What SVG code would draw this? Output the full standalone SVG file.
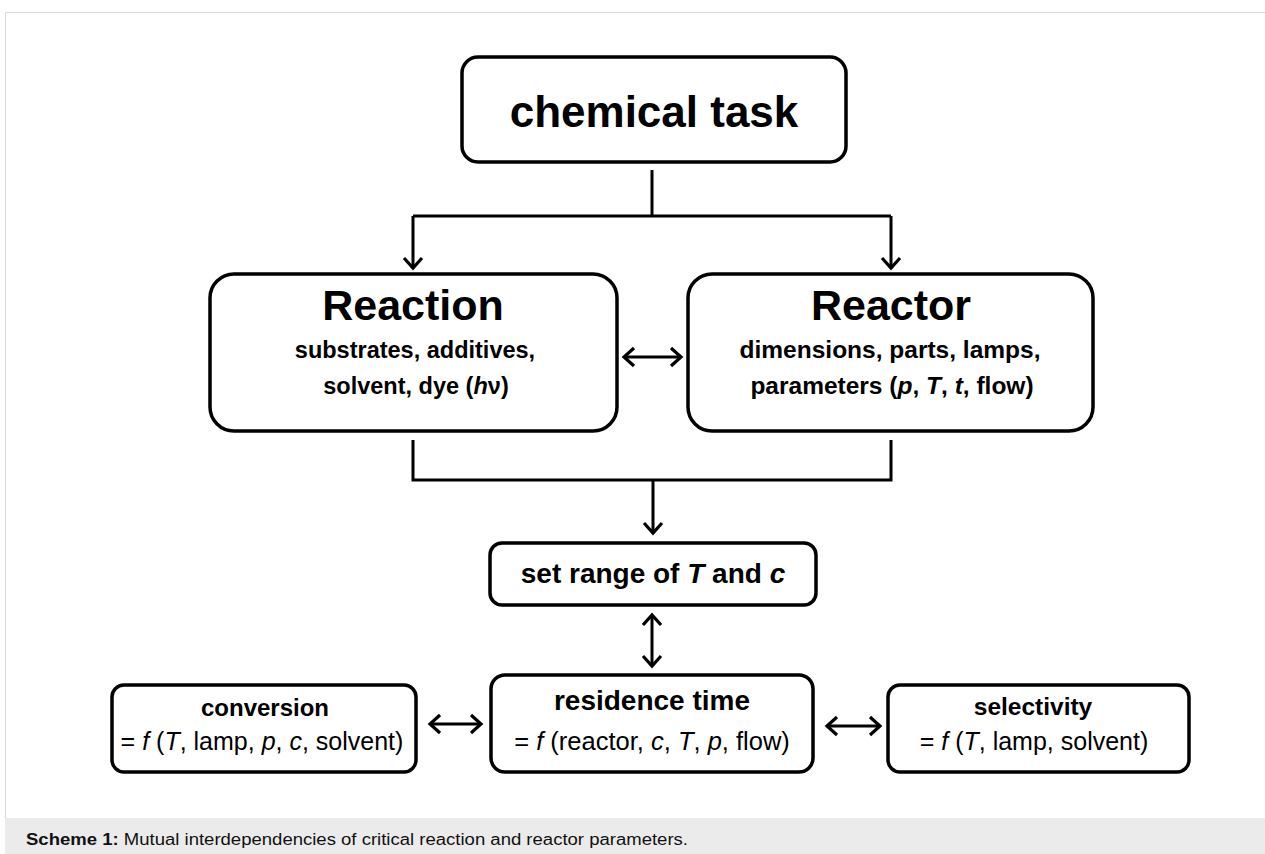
<svg xmlns="http://www.w3.org/2000/svg" width="1265" height="854" viewBox="0 0 1265 854">
<style>
.box{fill:#fff;stroke:#000;stroke-width:3.5}
.ln{fill:none;stroke:#000;stroke-width:3}
.t{font-family:"Liberation Sans",Arial,sans-serif;fill:#000;text-anchor:middle}
.b{font-weight:bold}
.i{font-style:italic}
.cap{font-family:"Liberation Sans",Arial,sans-serif;font-size:16px;fill:#111}
</style>
<defs>
<marker id="ah" markerUnits="userSpaceOnUse" markerWidth="24" markerHeight="24" viewBox="-14 -12 18 24" refX="0" refY="0" orient="auto-start-reverse">
<path d="M-10,-9 L0,0 L-10,9" fill="none" stroke="#000" stroke-width="3.2"/>
</marker>
</defs>
<rect x="0" y="0" width="1265" height="854" fill="#fff"/>
<path d="M5.5,818 V12.5 H1265" fill="none" stroke="#d9d9d9" stroke-width="1"/>
<rect x="5" y="818" width="1260" height="36" fill="#ebebeb"/>
<text class="cap" x="26" y="845" textLength="662" lengthAdjust="spacingAndGlyphs"><tspan font-weight="bold">Scheme 1:</tspan> Mutual interdependencies of critical reaction and reactor parameters.</text>

<g id="connectors">
<path class="ln" d="M652,170 V216"/>
<path class="ln" d="M413,216 H891"/>
<line class="ln" x1="413" y1="216" x2="413" y2="268" marker-end="url(#ah)"/>
<line class="ln" x1="891" y1="216" x2="891" y2="268" marker-end="url(#ah)"/>
<line class="ln" x1="624" y1="357" x2="681" y2="357" marker-start="url(#ah)" marker-end="url(#ah)" stroke-width="2.6"/>
<path class="ln" d="M413,440 V480 H891 V440"/>
<line class="ln" x1="653" y1="480" x2="653" y2="533" marker-end="url(#ah)"/>
<line class="ln" x1="652" y1="615" x2="652" y2="666" marker-start="url(#ah)" marker-end="url(#ah)" stroke-width="4"/>
<line class="ln" x1="430" y1="724" x2="481" y2="724" marker-start="url(#ah)" marker-end="url(#ah)" stroke-width="4"/>
<line class="ln" x1="827" y1="726" x2="880" y2="726" marker-start="url(#ah)" marker-end="url(#ah)" stroke-width="4"/>
</g>

<g id="chemical-task">
<rect class="box" x="462" y="57" width="384" height="105" rx="16"/>
<text class="t b" x="654" y="127" font-size="44">chemical task</text>
</g>

<g id="reaction">
<rect class="box" x="210" y="274" width="407" height="157" rx="24"/>
<text class="t b" x="413" y="320" font-size="43">Reaction</text>
<text class="t b" x="415" y="358" font-size="23.5">substrates, additives,</text>
<text class="t b" x="416" y="394" font-size="23.5">solvent, dye (<tspan class="i">h</tspan>ν)</text>
</g>

<g id="reactor">
<rect class="box" x="688" y="274" width="405" height="157" rx="24"/>
<text class="t b" x="891" y="320" font-size="43">Reactor</text>
<text class="t b" x="890" y="358" font-size="24.5">dimensions, parts, lamps,</text>
<text class="t b" x="892" y="394" font-size="24.5">parameters (<tspan class="i">p</tspan>, <tspan class="i">T</tspan>, <tspan class="i">t</tspan>, flow)</text>
</g>

<g id="set-range">
<rect class="box" x="490" y="543" width="326" height="62" rx="12"/>
<text class="t b" x="653" y="583" font-size="28">set range of <tspan class="i">T</tspan> and <tspan class="i">c</tspan></text>
</g>

<g id="residence-time">
<rect class="box" x="491" y="675" width="322" height="97" rx="14"/>
<text class="t b" x="652" y="710" font-size="28">residence time</text>
<text class="t" x="652" y="750" font-size="25.5">= <tspan class="i">f</tspan> (reactor, <tspan class="i">c</tspan>, <tspan class="i">T</tspan>, <tspan class="i">p</tspan>, flow)</text>
</g>

<g id="conversion">
<rect class="box" x="112" y="685" width="304" height="87" rx="12"/>
<text class="t b" x="265" y="716" font-size="24">conversion</text>
<text class="t" x="262" y="750" font-size="25">= <tspan class="i">f</tspan> (<tspan class="i">T</tspan>, lamp, <tspan class="i">p</tspan>, <tspan class="i">c</tspan>, solvent)</text>
</g>

<g id="selectivity">
<rect class="box" x="888" y="685" width="301" height="87" rx="12"/>
<text class="t b" x="1033" y="715" font-size="24.5">selectivity</text>
<text class="t" x="1034" y="750" font-size="25">= <tspan class="i">f</tspan> (<tspan class="i">T</tspan>, lamp, solvent)</text>
</g>
</svg>
